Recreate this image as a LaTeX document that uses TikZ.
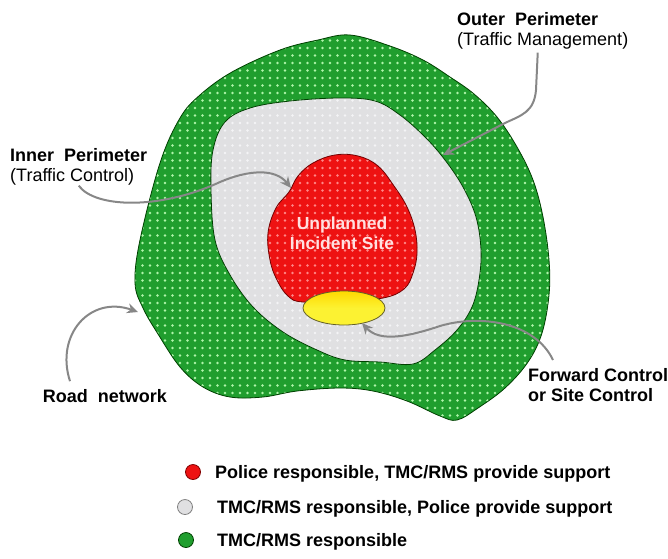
\documentclass[tikz,border=0pt]{standalone}
\usepackage{fontspec}
\setmainfont{Liberation Sans}
\usetikzlibrary{arrows.meta,patterns.meta}

\definecolor{zonegreen}{RGB}{32,158,46}
\definecolor{dotgreen}{RGB}{175,245,170}
\definecolor{zonegray}{RGB}{224,224,226}
\definecolor{dotgray}{RGB}{244,244,246}
\definecolor{zonered}{RGB}{238,18,18}
\definecolor{dotred}{RGB}{255,135,135}
\definecolor{zoneyellow}{RGB}{252,242,50}
\definecolor{arrowgray}{RGB}{135,135,135}

\begin{document}
\begin{tikzpicture}[x=1pt, y=-1pt,
    lbl/.style={anchor=north west, align=left, inner sep=0pt, font=\fontsize{18}{20.5}\selectfont},
    legendtxt/.style={anchor=base west, inner sep=0pt, font=\fontsize{18}{20}\selectfont\bfseries},
    legdot/.style={circle, minimum size=15pt, inner sep=0pt, line width=0.8pt},
    callout/.style={draw=arrowgray, line width=2pt, -{Stealth[length=11pt,width=10pt]}},
    zone/.style={line width=0.8pt, pattern={Dots[radius=1.35pt,distance=7.5pt]}}]

        \useasboundingbox (0,0) rectangle (668,558);

        % Outer perimeter: traffic management zone
        \draw[zone, preaction={fill=zonegreen}, pattern color=dotgreen, draw=green!25!black]
            plot[smooth cycle, tension=0.6] coordinates {
              (140,240) (160,163) (180,118) (200,95) (232,72) (280,50) (318,40) (350,35)
              (390,46) (423,60) (450,77) (474,94) (497,117) (517,147) (533,180) (543,217)
              (549,260) (549,295) (542,333) (528,362) (505,388) (478,408) (457,420)
              (440,416) (407,401) (373,391) (340,388) (297,391) (263,397) (230,397)
              (203,387) (180,367) (158,334) (143,308) (135,283)};

        % Inner perimeter: traffic control zone
        \draw[zone, preaction={fill=zonegray}, pattern color=dotgray, draw=green!25!black]
            plot[smooth cycle, tension=0.6] coordinates {
              (215,240) (211,190) (213,150) (225,122) (250,108) (290,101) (340,98)
              (375,101) (400,115) (425,137) (445,160) (463,187) (476,217) (481,250)
              (479,280) (472,307) (457,330) (435,350) (413,364) (380,362) (345,360)
              (317,350) (283,332) (253,307) (230,275)};

        % Incident site
        \draw[zone, preaction={fill=zonered}, pattern color=dotred, draw=red!45!black]
            plot[smooth cycle, tension=0.65] coordinates {
              (289,192) (298,176) (313,163) (335,155) (358,156) (378,166) (394,186)
              (407,207) (415,230) (417,253) (413,273) (404,289) (383,298) (345,301)
              (303,302) (288,296) (277,280) (270,260) (268,233) (276,208)};
        \node[font=\fontsize{17.5}{20}\selectfont\bfseries, text=red!12, align=center, inner sep=0pt]
            (sitelbl) at (342,233) {Unplanned\\Incident Site};

        % Forward / site control
        \draw[top color=yellow!70!orange, bottom color=zoneyellow, middle color=zoneyellow,
              draw=olive!60!black, line width=0.8pt] (344,308) ellipse (41 and 17);

        % Labels
        \node[lbl] (outerlbl) at (457,12) {\textbf{Outer\ \ Perimeter}\\(Traffic Management)};
        \node[lbl] (innerlbl) at (10,148) {\textbf{Inner\ \ Perimeter}\\(Traffic Control)};
        \node[lbl, anchor=center, font=\fontsize{18}{20}\selectfont\bfseries] (roadlbl) at (105,396) {Road\ \ network};
        \node[lbl, font=\fontsize{18}{20}\selectfont\bfseries] (fwdlbl) at (528,368) {Forward Control\\or Site Control};

        % Arrow targets
        \coordinate (outertip) at (443,155);
        \coordinate (innertip) at (291,188);
        \coordinate (roadtip) at (138,312);
        \coordinate (fwdtip) at (362,323);

        % Callout arrows
        \draw[callout] ([xshift=-5pt,yshift=-3pt]outerlbl.south) -- (536,90)
            .. controls (534,112) and (522,115) .. (505,123) -- (outertip);
        \draw[callout] (innerlbl.south) .. controls (95,208) and (160,210) .. (220,182)
            .. controls (248,170) and (275,168) .. (innertip);
        \draw[callout] ([xshift=-35pt,yshift=8pt]roadlbl.north) .. controls (55,335) and (90,295) .. (roadtip);
        \draw[callout] ([xshift=25pt,yshift=8pt]fwdlbl.north west) .. controls (535,322) and (480,314) .. (440,326)
            .. controls (410,336) and (380,343) .. (fwdtip);

        % Legend
        \node[legdot, fill=zonered, draw=red!50!black] (dotred) at (193,472) {};
        \node[legendtxt] (legred) at (215,478.5) {Police responsible, TMC/RMS provide support};
        \node[legdot, fill=zonegray, draw=gray] (dotgray) at (185,507) {};
        \node[legendtxt] (leggray) at (217,513.5) {TMC/RMS responsible, Police provide support};
        \node[legdot, fill=zonegreen, draw=green!25!black] (dotgreen) at (186,540) {};
        \node[legendtxt] (leggreen) at (217,546.5) {TMC/RMS responsible};

    \end{tikzpicture}
\end{document}
